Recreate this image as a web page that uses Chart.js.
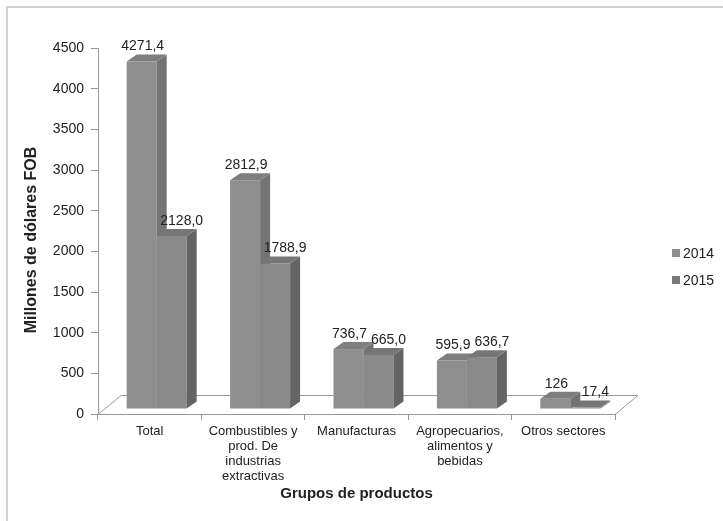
<!DOCTYPE html>
<html>
<head>
<meta charset="utf-8">
<script src="https://cdn.jsdelivr.net/npm/chart.js@4.4.1/dist/chart.umd.min.js"></script>
<style>
  body { margin: 0; background: #fff; overflow: hidden; }
  #marco { position: absolute; left: 6px; top: 6px; width: 800px; height: 600px;
           border-top: 2px solid #d2d2d2; border-left: 2px solid #d2d2d2; }
  #caja { position: absolute; left: 0; top: 0; width: 723px; height: 521px; }
</style>
</head>
<body>
<div id="marco"></div>
<div id="caja"><canvas id="grafica"></canvas></div>
<script>
// Datos
var categorias = ["Total", ["Combustibles y", "prod. De", "industrias", "extractivas"], "Manufacturas", ["Agropecuarios,", "alimentos y", "bebidas"], "Otros sectores"];
var valores2014 = [4271.4, 2812.9, 736.7, 595.9, 126];
var valores2015 = [2128.0, 1788.9, 665.0, 636.7, 17.4];
var etiquetas2014 = ["4271,4", "2812,9", "736,7", "595,9", "126"];
var etiquetas2015 = ["2128,0", "1788,9", "665,0", "636,7", "17,4"];
var series = ["2014", "2015"];
var tituloY = "Millones de dólares FOB";
var tituloX = "Grupos de productos";

// Colores de cada cara (frente, lado, tapa) y corrimiento de la etiqueta
var caras = [
  { frente: "#8e8e8e", lado: "#747474", tapa: "#7e7e7e", leyenda: "#8e8e8e", corr: 1 },
  { frente: "#8a8a8a", lado: "#646464", tapa: "#767676", leyenda: "#787878", corr: 10 }
];

var fuente = "'Liberation Sans', Arial, sans-serif";

// Plugin para dibujar las barras con efecto 3D
var barras3D = {
  id: "barras3D",
  beforeDatasetsDraw: function (chart) {
    var ctx = chart.ctx;
    var area = chart.chartArea;
    // Piso
    ctx.save();
    ctx.strokeStyle = "#9a9a9a";
    ctx.lineWidth = 1;
    ctx.beginPath();
    ctx.moveTo(area.left, area.bottom + 0.5);
    ctx.lineTo(area.left + 23, area.bottom - 18.5);
    ctx.lineTo(area.right + 23, area.bottom - 18.5);
    ctx.lineTo(area.right, area.bottom + 0.5);
    ctx.stroke();

    var dx = 7, dy = -5, px = 10, py = -7;
    chart.data.datasets.forEach(function (ds, i) {
      var meta = chart.getDatasetMeta(i);
      var c = caras[i];
      meta.data.forEach(function (el, j) {
        var p = el.getProps(["x", "y", "base", "width"], true);
        var L = p.x - p.width / 2 + dx, R = p.x + p.width / 2 + dx;
        var T = p.y + dy, B = p.base + dy;
        // frente
        ctx.fillStyle = c.frente;
        ctx.fillRect(L, T, R - L, B - T);
        // lado
        ctx.fillStyle = c.lado;
        ctx.beginPath();
        ctx.moveTo(R, T); ctx.lineTo(R + px, T + py); ctx.lineTo(R + px, B + py); ctx.lineTo(R, B);
        ctx.closePath(); ctx.fill();
        // tapa
        ctx.fillStyle = c.tapa;
        ctx.beginPath();
        ctx.moveTo(L, T); ctx.lineTo(L + px, T + py); ctx.lineTo(R + px, T + py); ctx.lineTo(R, T);
        ctx.closePath(); ctx.fill();
        // etiqueta
        var txt = i === 0 ? etiquetas2014[j] : etiquetas2015[j];
        ctx.fillStyle = "#222";
        ctx.font = "14px " + fuente;
        ctx.textAlign = "center";
        ctx.textBaseline = "middle";
        ctx.fillText(txt, (L + R) / 2 + c.corr, T + py - 8);
      });
    });
    ctx.restore();
    return false;
  },
  afterDraw: function (chart) {
    var ctx = chart.ctx;
    ctx.save();
    // Leyenda
    ctx.font = "14px " + fuente;
    ctx.textBaseline = "middle";
    ctx.textAlign = "left";
    chart.data.datasets.forEach(function (ds, i) {
      var y = 253 + i * 27;
      ctx.fillStyle = caras[i].leyenda;
      ctx.fillRect(672, y - 4, 8, 8);
      ctx.fillStyle = "#222";
      ctx.fillText(ds.label, 683, y + 1);
    });
    // Titulo del eje Y
    ctx.translate(32, 240);
    ctx.rotate(-Math.PI / 2);
    ctx.textAlign = "center";
    ctx.font = "bold 16px " + fuente;
    ctx.fillText(tituloY, 0, 0);
    ctx.restore();
  }
};

var ctx = document.getElementById("grafica").getContext("2d");
var miGrafica = new Chart(ctx, {
  type: "bar",
  data: {
    labels: categorias,
    datasets: [
      { label: series[0], data: valores2014, backgroundColor: caras[0].frente },
      { label: series[1], data: valores2015, backgroundColor: caras[1].frente }
    ]
  },
  options: {
    responsive: true,
    maintainAspectRatio: false,
    animation: false,
    categoryPercentage: 0.58,
    barPercentage: 1,
    layout: { padding: { left: 0, top: 48, right: 108, bottom: 0 } },
    plugins: {
      legend: { display: false },
      tooltip: { enabled: false }
    },
    scales: {
      x: {
        afterFit: function (s) { s.height = 107; },
        grid: { drawOnChartArea: false, tickLength: 6, color: "#9a9a9a", offset: true },
        border: { color: "#9a9a9a" },
        ticks: { color: "#222", padding: 4, maxRotation: 0, autoSkip: false,
                 font: { family: fuente, size: 13, lineHeight: 1.15 } },
        title: { display: true, text: tituloX, color: "#222",
                 font: { family: fuente, size: 15, weight: "bold" }, padding: { top: 0, bottom: 18 } }
      },
      y: {
        min: 0, max: 4500,
        afterFit: function (s) { s.width = 98; },
        grid: { drawOnChartArea: false, tickLength: 7, color: "#9a9a9a" },
        border: { color: "#9a9a9a" },
        ticks: { stepSize: 500, color: "#222", padding: 7,
                 font: { family: fuente, size: 14 },
                 callback: function (v) { return String(v); } }
      }
    }
  },
  plugins: [barras3D]
});
</script>
</body>
</html>
